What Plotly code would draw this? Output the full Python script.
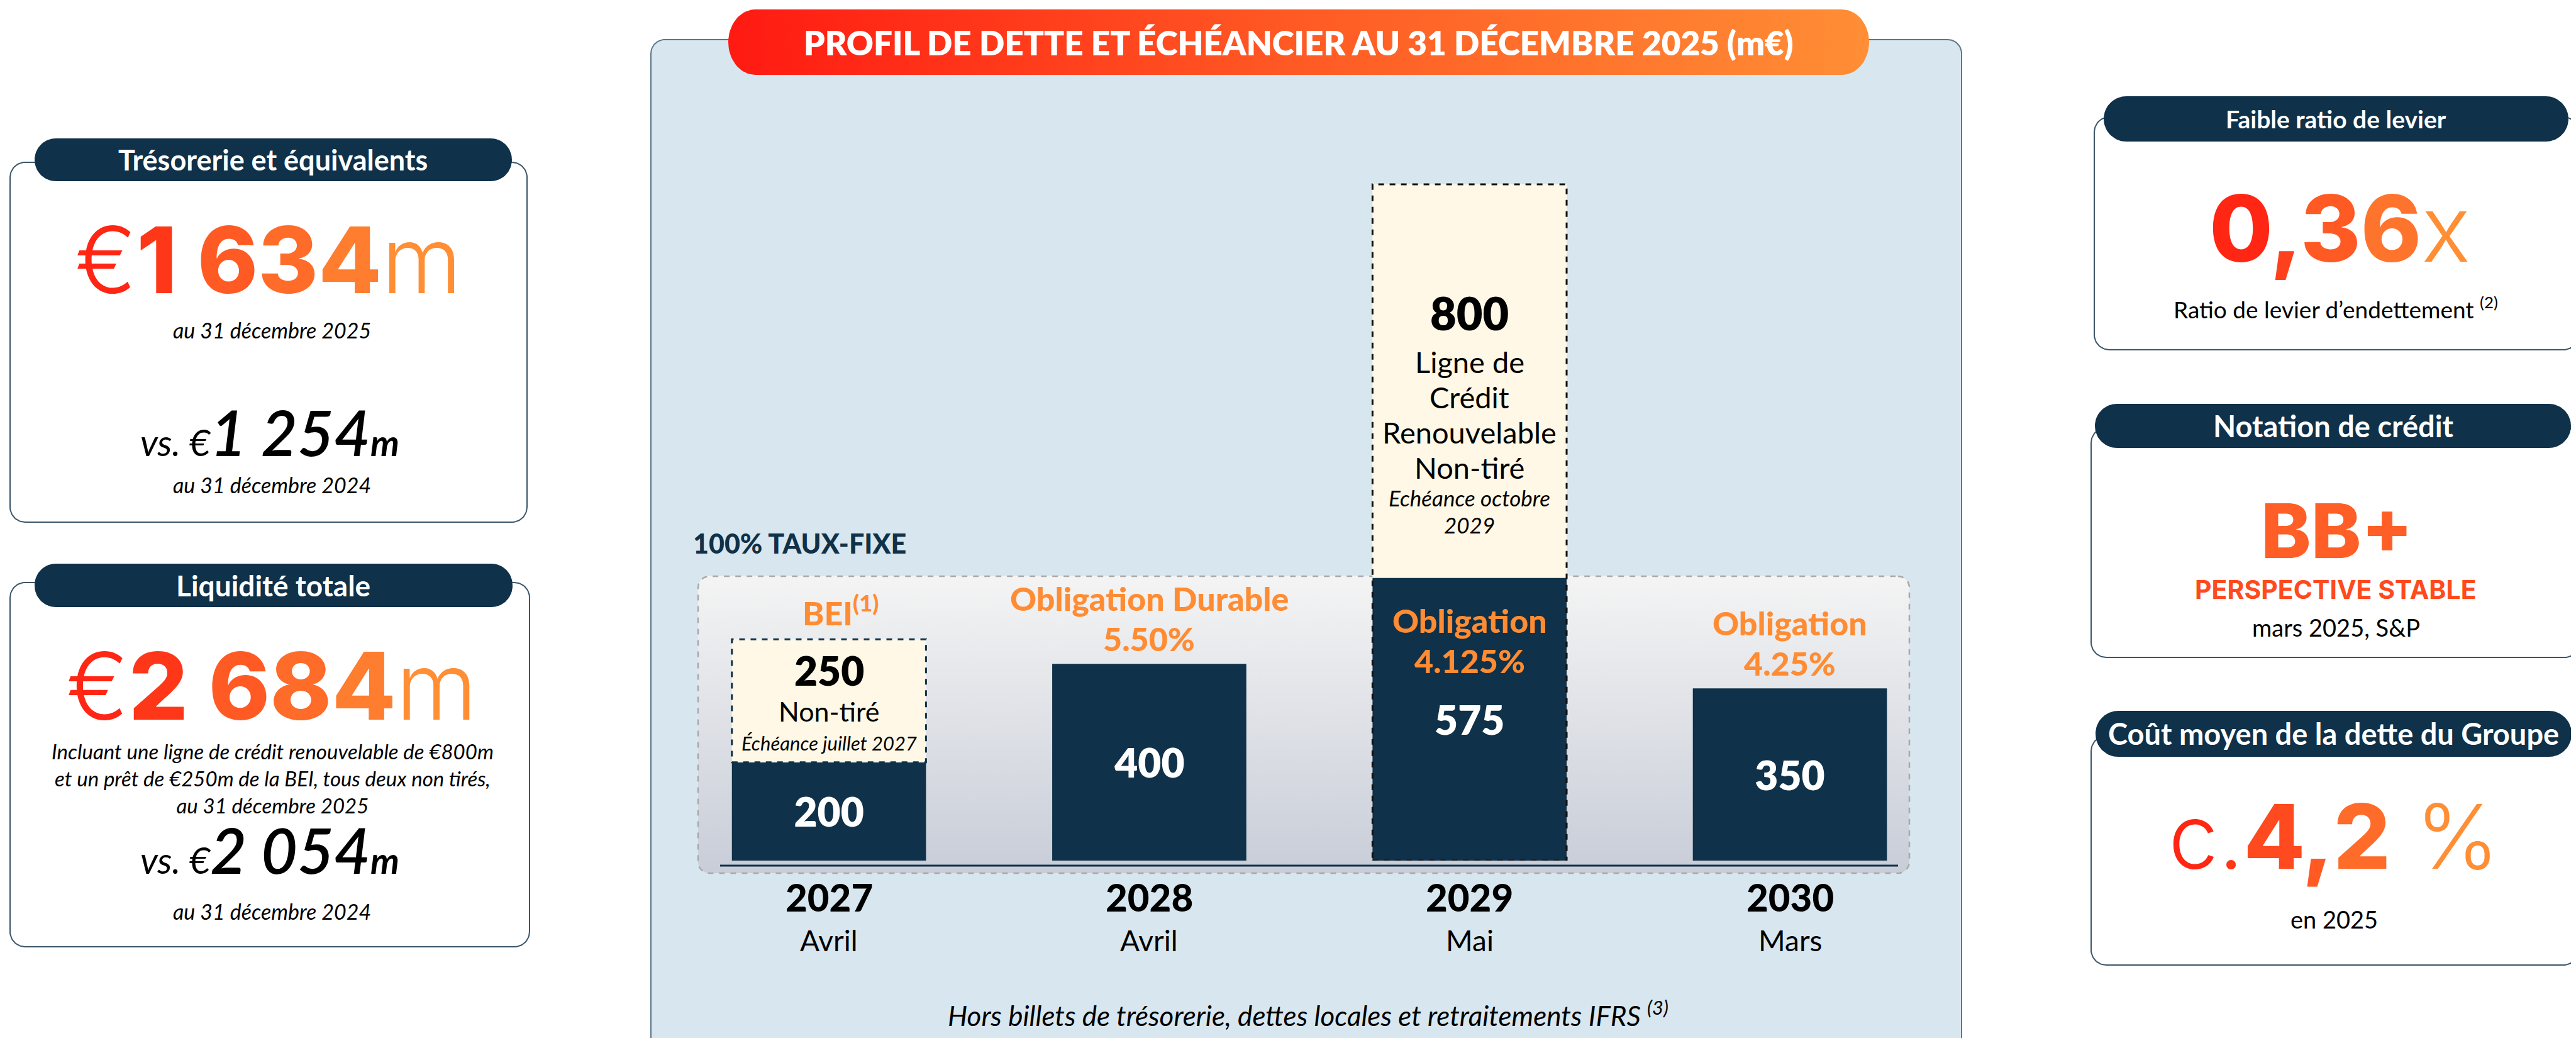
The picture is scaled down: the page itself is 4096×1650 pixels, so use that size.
import numpy as np
import plotly.graph_objects as go

W, H = 4096, 1650

# ---------------- data ----------------
years = ["2027", "2028", "2029", "2030"]
months = ["Avril", "Avril", "Mai", "Mars"]
drawn = [200, 400, 575, 350]            # tiré (m€)
undrawn = [250, 0, 800, 0]              # non-tiré (m€)
instr_name = ["BEI<sup>(1)</sup>", "Obligation Durable", "Obligation", "Obligation"]
instr_rate = ["", "5.50%", "4.125%", "4.25%"]
undrawn_desc = [["Non-tiré"], [], ["Ligne de", "Crédit", "Renouvelable", "Non-tiré"], []]
undrawn_maturity = [["Échéance juillet 2027"], [], ["Echéance octobre", "2029"], []]

cash_2025 = "1 634"
cash_2024 = "1 254"
liquidity_2025 = "2 684"
liquidity_2024 = "2 054"
leverage = "0,36"
rating = "BB+"
rating_outlook = "PERSPECTIVE STABLE"
rating_source = "mars 2025, S&P"
cost_of_debt = "4,2"

# ---------------- style ----------------
NAVY = "#0f3149"
ORANGE = "#ff8c33"
CREAM = "#fff8e6"
BLUE_BG = "#d8e7ef"
BORDER = "#3c5669"
RED0 = (255, 38, 20)
ORG1 = (255, 142, 52)
BW = 0.606  # bar width (category units)
label_inside = [False, False, True, False]
outline_full = [False, False, True, False]
undrawn_layout = {
    0: dict(num=49, desc=114, dstep=56, mat=165, mstep=42, nsize=64, dsize=43, msize=31),
    2: dict(num=204, desc=282, dstep=56, mat=498, mstep=43, nsize=72, dsize=47, msize=35),
}

fig = go.Figure()


def rrect(x0, y0, x1, y1, rx, ry=None, n=18):
    ry = rx if ry is None else ry
    xs, ys = [], []
    for cx, cy, a0 in [(x1 - rx, y0 + ry, -90), (x1 - rx, y1 - ry, 0),
                       (x0 + rx, y1 - ry, 90), (x0 + rx, y0 + ry, 180)]:
        t = np.radians(np.linspace(a0, a0 + 90, n))
        xs += list(cx + rx * np.cos(t))
        ys += list(cy + ry * np.sin(t))
    xs.append(xs[0]); ys.append(ys[0])
    return xs, ys


def deco(x0, y0, x1, y1, r, fill=None, line=None, lw=0, dash=None, grad=None, ry=None):
    xs, ys = rrect(x0, y0, x1, y1, r, ry)
    kw = dict(x=xs, y=ys, mode="lines", fill="toself", xaxis="x", yaxis="y",
              hoverinfo="skip", showlegend=False,
              line=dict(color=line or "rgba(0,0,0,0)", width=lw, dash=dash))
    if grad is not None:
        kw["fillgradient"] = grad
    else:
        kw["fillcolor"] = fill
    fig.add_trace(go.Scatter(**kw))


def lerp(c0, c1, t):
    return tuple(round(a + (b - a) * t) for a, b in zip(c0, c1))


def grad_text(parts, c0=RED0, c1=ORG1):
    chars = [(ch, st) for txt, st in parts for ch in txt]
    n = len(chars)
    groups = []
    for i, (ch, st) in enumerate(chars):
        if ch == " " and groups:
            groups[-1][0] += "\u00a0"
            continue
        r, g, b = lerp(c0, c1, i / max(n - 1, 1))
        groups.append([ch, st, f"rgb({r},{g},{b})"])
    return "".join(f"<span style='color:{c};{st}'>{t}</span>" for t, st, c in groups)


annotations = []


def ann(x, y, text, size, color="black", family="Lato", weight=None, style=None,
        xref="x", yref="y", xanchor="center", yanchor="middle", yshift=0, xshift=0,
        height=None):
    font = dict(size=size, color=color, family=family)
    if weight is not None:
        font["weight"] = weight
    if style is not None:
        font["style"] = style
    a = dict(x=x, y=y, xref=xref, yref=yref, text=text, showarrow=False,
             font=font, xanchor=xanchor, yanchor=yanchor, yshift=yshift, xshift=xshift)
    if height is not None:
        a["height"] = height
    annotations.append(a)


def vs_text(value):
    return (f"<span style='font-size:58px'>vs.\u00a0€</span>"
            f"<span style='font-size:100px;font-weight:600'>{value}</span>"
            f"<span style='font-size:58px;font-weight:700'>m</span>")


BIG_H = 165

# ---------------- left panels ----------------
deco(8, 250, 830, 822, 24, fill="white", line=BORDER, lw=2)
deco(47, 212, 806, 280, 34, fill=NAVY)
ann(426, 246, "Trésorerie et équivalents", 45, "white", weight=700)
ann(418, 404, grad_text([("€", "font-weight:300"), (cash_2025, "font-weight:800"),
                         ("m", "font-weight:300")]), 146, family="Inter", height=BIG_H)
ann(424, 516, "au 31 décembre 2025", 34, style="italic")
ann(421, 678, vs_text(cash_2024), 58, style="italic")
ann(424, 762, "au 31 décembre 2024", 34, style="italic")

deco(8, 918, 834, 1497, 24, fill="white", line=BORDER, lw=2)
deco(47, 888, 807, 957, 34, fill=NAVY)
ann(426, 922, "Liquidité totale", 46, "white", weight=700)
ann(424, 1082, grad_text([("€", "font-weight:300"), (liquidity_2025, "font-weight:800"),
                          ("m", "font-weight:300")]), 148, family="Inter", height=BIG_H)
ann(425, 1229, "Incluant une ligne de crédit renouvelable de €800m<br>"
               "et un prêt de €250m de la BEI, tous deux non tirés,<br>"
               "au 31 décembre 2025", 33, style="italic")
ann(421, 1342, vs_text(liquidity_2024), 58, style="italic")
ann(424, 1440, "au 31 décembre 2024", 34, style="italic")

# ---------------- centre panel ----------------
deco(1027, 55, 3111, 1700, 22, fill=BLUE_BG, line="#5d778a", lw=2)
deco(1102, 908, 3028, 1380, 18, line="#a9a9a9", lw=2.5, dash="dash",
     grad=dict(type="vertical", colorscale=[[0, "#f4f4f4"], [1, "#c8cdd8"]], start=908, stop=1380))
deco(1150, 7, 2964, 111, 43, ry=52,
     grad=dict(type="horizontal", colorscale=[[0, "#ff1a12"], [0.5, "#ff5a24"], [1, "#ff8e35"]],
               start=1150, stop=2964))
ann(2057, 59, "PROFIL DE DETTE ET ÉCHÉANCIER AU 31 DÉCEMBRE 2025 (m€)", 53, "white", weight=800)
ann(1092, 855, "100% TAUX-FIXE", 43, NAVY, weight=900, xanchor="left")

# bars
fig.add_trace(go.Bar(x=years, y=drawn, width=BW, marker=dict(color=NAVY, line=dict(width=0)),
                     text=[str(v) for v in drawn], textposition="inside",
                     insidetextanchor="middle", textangle=0,
                     textfont=dict(family="Lato", size=64, color="white", weight=800),
                     xaxis="x2", yaxis="y2", hoverinfo="skip", showlegend=False))
fig.add_trace(go.Bar(x=years, y=undrawn, base=drawn, width=BW,
                     marker=dict(color=CREAM, line=dict(width=0)),
                     xaxis="x2", yaxis="y2", hoverinfo="skip", showlegend=False))

shapes = []
for i in range(len(years)):
    if undrawn[i] > 0:
        y0 = 0 if outline_full[i] else drawn[i]
        shapes.append(dict(type="rect", xref="x2", yref="y2", x0=i - BW / 2, x1=i + BW / 2,
                           y0=y0, y1=drawn[i] + undrawn[i],
                           line=dict(color="#111111" if outline_full[i] else NAVY, width=3, dash="dash"),
                           layer="above"))
# axis baseline
shapes.append(dict(type="line", xref="x", yref="y", x0=1137, x1=3010, y0=1368, y1=1368,
                   line=dict(color=NAVY, width=3)))

# instrument labels (x given as category index)
LBL = 52
for i in range(len(years)):
    if label_inside[i]:
        ann(i, drawn[i], instr_name[i], LBL, ORANGE, weight=900,
            xref="x2", yref="y2", yshift=-68)
        ann(i, drawn[i], instr_rate[i], LBL, ORANGE, weight=900,
            xref="x2", yref="y2", yshift=-132)
    else:
        top = drawn[i] + undrawn[i]
        if instr_rate[i]:
            ann(i, top, instr_name[i], LBL, ORANGE, weight=900, xref="x2", yref="y2", yshift=104)
            ann(i, top, instr_rate[i], LBL, ORANGE, weight=900, xref="x2", yref="y2", yshift=40)
        else:
            ann(i, top, instr_name[i], LBL, ORANGE, weight=900, xref="x2", yref="y2",
                yshift=46, xshift=18)

# undrawn box texts
for i, L in undrawn_layout.items():
    top = drawn[i] + undrawn[i]
    ann(i, top, str(undrawn[i]), L["nsize"], "black", weight=800, xref="x2", yref="y2",
        yshift=-L["num"])
    for k, line in enumerate(undrawn_desc[i]):
        ann(i, top, line, L["dsize"], "black", xref="x2", yref="y2",
            yshift=-(L["desc"] + k * L["dstep"]))
    for k, line in enumerate(undrawn_maturity[i]):
        ann(i, top, line, L["msize"], "black", style="italic", xref="x2", yref="y2",
            yshift=-(L["mat"] + k * L["mstep"]))

# x labels
for i in range(len(years)):
    ann(i, 0, years[i], 60, "black", weight=900, xref="x2", yref="y2", yshift=-58)
    ann(i, 0, months[i], 46, "black", xref="x2", yref="y2", yshift=-127)

ann(2072, 1603, "Hors billets de trésorerie, dettes locales et retraitements IFRS <sup>(3)</sup>",
    44, style="italic")

# ---------------- right panels ----------------
deco(3322, 178, 4092, 548, 24, fill="white", line=BORDER, lw=2)
deco(3337, 145, 4076, 217, 36, fill=NAVY)
ann(3706, 181, "Faible ratio de levier", 39, "white", weight=700)
ann(3712, 354, grad_text([(leverage, "font-weight:800"), ("x", "font-weight:300")]), 146,
    family="Inter", height=BIG_H)
ann(3706, 481, "Ratio de levier d’endettement <sup>(2)</sup>", 37)

deco(3317, 672, 4094, 1037, 24, fill="white", line=BORDER, lw=2)
deco(3323, 634, 4080, 704, 35, fill=NAVY)
ann(3702, 669, "Notation de crédit", 47, "white", weight=700)
ann(3708, 835, rating, 120, "#ff5f26", family="Inter", weight=800, height=140)
ann(3706, 929, rating_outlook, 41, "#ff4a1e", family="Inter", weight=700)
ann(3706, 989, rating_source, 38)

deco(3317, 1162, 4092, 1526, 24, fill="white", line=BORDER, lw=2)
deco(3324, 1122, 4081, 1195, 36, fill=NAVY)
ann(3702, 1158, "Coût moyen de la dette du Groupe", 47, "white", weight=700)
ann(3703, 1320, grad_text([("c.", "font-weight:300"), (cost_of_debt, "font-weight:800"),
                           ("\u00a0%", "font-weight:300")]), 142, family="Inter", height=BIG_H)
ann(3703, 1453, "en 2025", 38)

fig.update_layout(
    width=W, height=H, margin=dict(l=0, r=0, t=0, b=0),
    paper_bgcolor="white", plot_bgcolor="rgba(0,0,0,0)",
    showlegend=False, barmode="overlay",
    xaxis=dict(range=[0, W], domain=[0, 1], visible=False, fixedrange=True),
    yaxis=dict(range=[H, 0], domain=[0, 1], visible=False, fixedrange=True),
    xaxis2=dict(type="category", categoryarray=years, range=[-0.5, 3.5],
                domain=[0.25767, 0.75505], visible=False, anchor="y2", fixedrange=True),
    yaxis2=dict(range=[0, 1400], domain=[0.17576, 0.83909], visible=False, anchor="x2",
                fixedrange=True),
    shapes=shapes, annotations=annotations,
)

fig.write_html("out.html")
